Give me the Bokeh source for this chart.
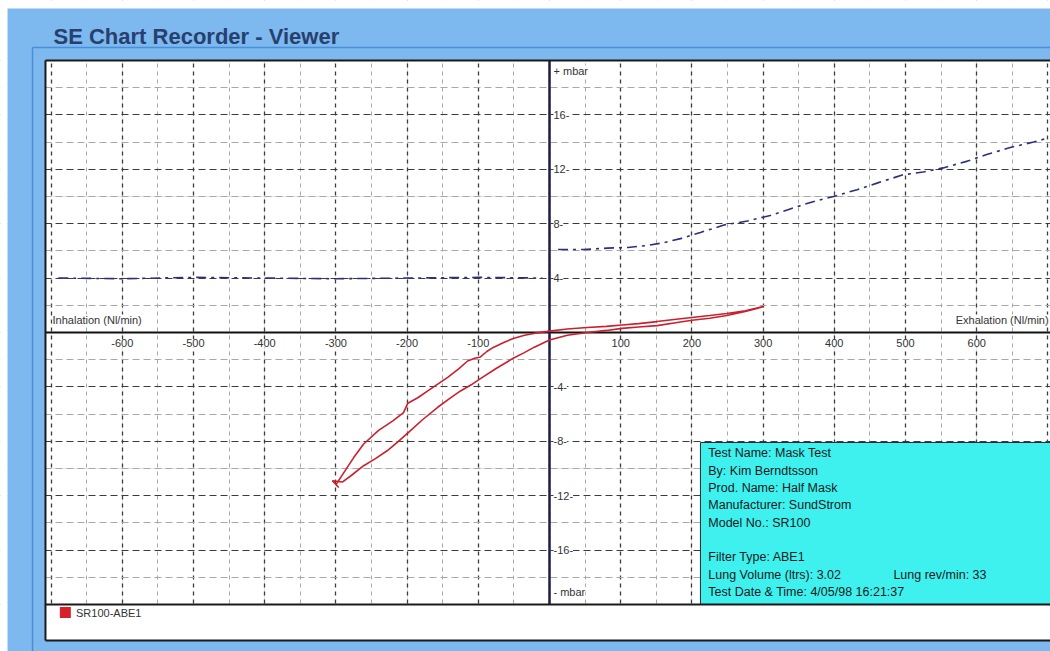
import numpy as np
from bokeh.plotting import figure
from bokeh.models import Range1d, Grid, SingleIntervalTicker, FixedTicker
from bokeh.core.properties import value
from bokeh.embed import file_html
from bokeh.resources import INLINE

# ---------------- data ----------------
title_text = "SE Chart Recorder - Viewer"
x_ticks = [-600, -500, -400, -300, -200, -100, 100, 200, 300, 400, 500, 600]
y_ticks = [16, 12, 8, 4, -4, -8, -12, -16]
x_name_left = "Inhalation (Nl/min)"
x_name_right = "Exhalation (Nl/min)"
y_name_top = "+ mbar"
y_name_bottom = "- mbar"
series_name = "SR100-ABE1"

# pressure loop (red)
red_x = [-300, -290, -275, -261, -240, -220, -205, -199, -185, -171, -157, -143, -128, -115, -105,
         -97, -88, -79, -65, -51, -35, -22, 0,
         25, 53, 80, 102, 125, 151, 175, 200, 225, 249, 275, 300,
         290, 275, 249, 225, 200, 175, 151, 125, 102, 80, 53, 25, 0,
         -22, -36, -51, -75, -97, -110, -125, -140, -157, -178, -198, -213, -228, -245, -261, -278,
         -291, -305, -296, -300]
red_y = [-11.2, -10.4, -9.2, -8.2, -7.2, -6.5, -5.9, -5.2, -4.8, -4.3, -3.8, -3.3, -2.7, -2.1, -1.9,
         -1.8, -1.4, -1.1, -0.75, -0.45, -0.2, -0.07, 0.1,
         0.25, 0.37, 0.45, 0.55, 0.65, 0.8, 0.95, 1.1, 1.25, 1.4, 1.6, 1.9,
         1.75, 1.55, 1.25, 1.05, 0.9, 0.7, 0.5, 0.4, 0.3, 0.15, 0.0, -0.2, -0.55,
         -1.1, -1.5, -1.9, -2.65, -3.4, -3.85, -4.3, -4.85, -5.5, -6.4, -7.35, -8.05, -8.7, -9.3, -9.8, -10.5,
         -11.0, -10.9, -11.4, -11.2]

# reference curve (blue, dashed)
blue_x = [-690, -600, -500, -400, -300, -200, -100, -10, np.nan,
          12, 48, 81, 110, 138, 160, 184, 212, 245, 278, 310, 339, 369, 399, 432, 461, 497,
          525, 553, 587, 615, 647, 680, 700]
blue_y = [4.0, 3.95, 4.05, 4.0, 3.95, 4.0, 4.05, 4.0, np.nan,
          6.1, 6.1, 6.2, 6.25, 6.4, 6.6, 6.9, 7.35, 7.9, 8.2, 8.6, 9.1, 9.6, 10.0, 10.5, 11.0, 11.6,
          11.8, 12.1, 12.6, 13.1, 13.6, 14.0, 14.3]

info_lines = ["Test Name: Mask Test", "By: Kim Berndtsson", "Prod. Name: Half Mask",
              "Manufacturer: SundStrom", "Model No.: SR100", "",
              "Filter Type: ABE1", "Lung Volume (ltrs): 3.02", "Test Date & Time: 4/05/98 16:21:37"]
info_extra = "Lung rev/min: 33"

# ---------------- layout / style ----------------
W, H = 1050, 651
XS, XE = -771.07, 703.65          # whole canvas in data units
YS, YE = -23.46, 24.41
PX_L = -707.9                     # left edge of the white panel
PLOT_TOP, PLOT_BOTTOM = 20.0, -20.0
PANEL_BOTTOM = -22.65
WIN_LEFT, WIN_TOP = -761.2, 23.82  # start of the blue window
INNER_LEFT, INNER_TOP = -726.1, 20.96
BLUE = "#7db8ef"
BLUE_LINE = "#4a8ed8"
FONT = "Liberation Sans"
TXT = "#333333"

p = figure(width=W, height=H, x_range=Range1d(XS, XE), y_range=Range1d(YS, YE),
           output_backend="svg", toolbar_location=None,
           x_axis_location=None, y_axis_location=None,
           min_border_left=0, min_border_right=0, min_border_top=0, min_border_bottom=0,
           border_fill_color="white", background_fill_color="white", outline_line_color=None)
p.title.visible = False

# grids
p.add_layout(Grid(dimension=0, ticker=FixedTicker(ticks=list(range(-650, 651, 100))),
                  grid_line_color="#a8a8a8", grid_line_dash="4 4", grid_line_width=1))
p.add_layout(Grid(dimension=0, ticker=SingleIntervalTicker(interval=100, num_minor_ticks=0),
                  grid_line_color="#3c3c3c", grid_line_dash="4 4", grid_line_width=1.3))
p.add_layout(Grid(dimension=1, ticker=FixedTicker(ticks=list(range(-18, 19, 4))),
                  grid_line_color="#a8a8a8", grid_line_dash="7 4", grid_line_width=1))
p.add_layout(Grid(dimension=1, ticker=SingleIntervalTicker(interval=4, num_minor_ticks=0),
                  grid_line_color="#3c3c3c", grid_line_dash="7 4", grid_line_width=1.2))

# window chrome: blue frame round the white panel, white outside strips
p.quad(left=[WIN_LEFT - 2, WIN_LEFT - 2, WIN_LEFT - 2], right=[XE + 5, PX_L, XE + 5],
       bottom=[PLOT_TOP, YS - 1, YS - 1], top=[WIN_TOP + 0.2, WIN_TOP + 0.2, PANEL_BOTTOM],
       fill_color=BLUE, line_color=None)
p.quad(left=[XS - 5, XS - 5], right=[XE + 5, WIN_LEFT], bottom=[WIN_TOP, YS - 1], top=[YE + 1, YE + 1],
       fill_color="white", line_color=None)
p.segment(x0=[INNER_LEFT, INNER_LEFT], y0=[INNER_TOP, INNER_TOP], x1=[XE, INNER_LEFT], y1=[INNER_TOP, YS],
          line_color=BLUE_LINE, line_width=1.5)

# legend strip (white) below plot
p.quad(left=PX_L, right=XE + 5, bottom=PANEL_BOTTOM, top=PLOT_BOTTOM, fill_color="white", line_color=None)

# info box
p.quad(left=212, right=XE + 20, bottom=PLOT_BOTTOM, top=-8.09, fill_color="#3ef1ef",
       line_color="#2a2a2a", line_width=1)

# axes lines
p.segment(x0=[PX_L], y0=[0], x1=[XE], y1=[0], line_color="#111111", line_width=2)
p.segment(x0=[0], y0=[PLOT_BOTTOM], x1=[0], y1=[PLOT_TOP], line_color="#1e1e4a", line_width=2.5)

# panel borders
p.segment(x0=[PX_L, PX_L, PX_L, PX_L], y0=[PANEL_BOTTOM, PLOT_TOP, PLOT_BOTTOM, PANEL_BOTTOM],
          x1=[PX_L, XE, XE, XE], y1=[PLOT_TOP, PLOT_TOP, PLOT_BOTTOM, PANEL_BOTTOM],
          line_color="#1a1a1a", line_width=2)

# series
p.line(blue_x, blue_y, line_color="#2b2f7c", line_width=1.6, line_dash="10 5 3 5")
p.line(red_x, red_y, line_color="#cc1f2e", line_width=1.6)

# tick labels
p.text(x=x_ticks, y=[0] * len(x_ticks), text=[str(v) for v in x_ticks],
       text_font=value(FONT), text_font_size="11px", text_color=TXT,
       text_align="center", text_baseline="middle", y_offset=11,
       background_fill_color="white")
p.text(x=[5.6] * len(y_ticks), y=y_ticks, text=[f"{v}-" for v in y_ticks],
       text_font=value(FONT), text_font_size="11px", text_color=TXT,
       text_align="left", text_baseline="middle", background_fill_color="white")
p.text(x=[5.6, 5.6], y=[19.2, -19.1], text=[y_name_top, y_name_bottom],
       text_font=value(FONT), text_font_size="11px", text_color=TXT,
       text_align="left", text_baseline="middle", background_fill_color="white")
p.text(x=[-698], y=[0.88], text=[x_name_left], text_font=value(FONT), text_font_size="11px",
       text_color=TXT, text_align="left", text_baseline="middle",
       background_fill_color="white")
p.text(x=[701], y=[0.88], text=[x_name_right], text_font=value(FONT), text_font_size="11px",
       text_color=TXT, text_align="right", text_baseline="middle",
       background_fill_color="white")

# info text
p.text(x=[223] * len(info_lines), y=[-8.09] * len(info_lines), text=info_lines,
       y_offset=[11 + 17.3 * i for i in range(len(info_lines))],
       text_font=value(FONT), text_font_size="12.5px", text_color="#1a1a1a",
       text_align="left", text_baseline="middle")
p.text(x=[483], y=[-8.09], text=[info_extra], y_offset=[11 + 17.3 * 7],
       text_font=value(FONT), text_font_size="12.5px", text_color="#1a1a1a",
       text_align="left", text_baseline="middle")

# legend
p.scatter(x=[-680], y=[-20.59], marker="square", size=11, fill_color="#d8202c", line_color=None)
p.text(x=[-665], y=[PLOT_BOTTOM], text=[series_name], y_offset=9,
       text_font=value(FONT), text_font_size="11px", text_color=TXT,
       text_align="left", text_baseline="middle")

# window title
p.text(x=[-696.6], y=[21.76], text=[title_text], text_font=value(FONT), text_font_size="22px",
       text_font_style="bold", text_color="#27406e", text_align="left", text_baseline="alphabetic")

open("out.html", "w").write(file_html(p, INLINE))
